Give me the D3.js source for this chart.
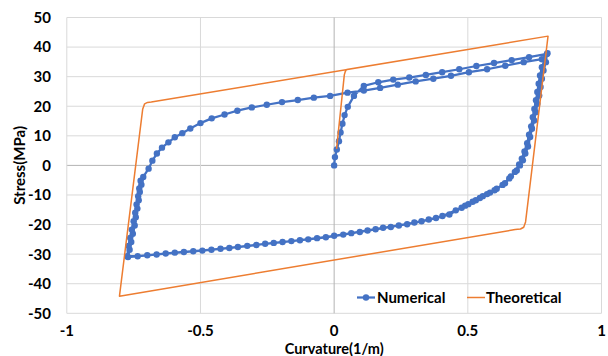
<!DOCTYPE html>
<html>
<head>
<meta charset="utf-8">
<script src="https://cdn.jsdelivr.net/npm/d3@7/dist/d3.min.js"></script>
<style>
  html, body { margin: 0; padding: 0; background: #ffffff; }
  svg { display: block; }
  text { font-family: Lato, "Open Sans", sans-serif; font-weight: bold; fill: #000; }
</style>
</head>
<body>
<svg id="chart" width="608" height="356"></svg>
<script>
// Axis ticks
const xTicks = [-1, -0.5, 0, 0.5, 1];
const yTicks = [50, 40, 30, 20, 10, 0, -10, -20, -30, -40, -50];

// Numerical hysteresis, [curvature (1/m), stress (MPa)]
const initialLoading = [
  [0, 0], [0.003, 2.8], [0.010, 5.4], [0.018, 8.2], [0.024, 11.1], [0.031, 14.1],
  [0.039, 17.0], [0.051, 19.8], [0.074, 23.5], [0.111, 26.9], [0.165, 28.1],
  [0.221, 29.0], [0.281, 29.7], [0.343, 30.6], [0.404, 31.5], [0.468, 32.5],
  [0.532, 33.6], [0.598, 34.6], [0.664, 35.6], [0.729, 36.6], [0.796, 37.7]
];
const unloadingFirst = [
  [0.792, 34.9], [0.783, 32.1], [0.777, 29.3], [0.772, 26.5], [0.767, 23.6],
  [0.760, 20.8], [0.754, 18.0], [0.748, 15.2], [0.740, 12.4], [0.733, 9.6],
  [0.725, 6.4], [0.715, 4.0], [0.706, 1.7], [0.695, 0.0], [0.683, -1.7],
  [0.661, -3.7], [0.639, -6.0], [0.608, -7.9], [0.583, -9.2], [0.556, -10.4],
  [0.530, -11.8], [0.502, -13.1], [0.477, -14.3], [0.431, -16.6], [0.381, -17.8],
  [0.327, -18.9], [0.273, -19.9], [0.212, -20.8], [0.155, -21.6], [0.096, -22.5],
  [0.034, -23.4], [-0.031, -24.3], [-0.097, -25.0], [-0.160, -25.6], [-0.226, -26.2],
  [-0.291, -26.9], [-0.360, -27.6], [-0.425, -28.2], [-0.493, -28.8], [-0.562, -29.3],
  [-0.630, -29.8], [-0.699, -30.4], [-0.771, -31.0]
];
const reloading = [
  [-0.765, -28.5], [-0.759, -25.9], [-0.753, -23.1], [-0.746, -20.3], [-0.742, -17.5],
  [-0.736, -14.6], [-0.731, -11.8], [-0.727, -9.0], [-0.721, -6.5], [-0.714, -3.9],
  [-0.694, -1.1], [-0.680, 1.6], [-0.663, 4.0], [-0.644, 6.0], [-0.620, 7.8],
  [-0.596, 9.5], [-0.568, 10.9], [-0.538, 12.5], [-0.500, 14.3], [-0.458, 15.9],
  [-0.410, 17.2], [-0.362, 18.5], [-0.308, 19.6], [-0.252, 20.5], [-0.195, 21.4],
  [-0.136, 22.1], [-0.076, 22.9], [-0.015, 23.5], [0.050, 24.6], [0.111, 25.3],
  [0.172, 26.2], [0.238, 27.3], [0.305, 28.4], [0.371, 29.3], [0.437, 30.3],
  [0.504, 31.5], [0.572, 32.5], [0.640, 33.7], [0.709, 34.9], [0.777, 35.9],
  [0.798, 37.9]
];
const unloadingSecond = [
  [0.777, 33.2], [0.770, 30.4], [0.765, 27.6], [0.760, 24.8], [0.755, 22.0],
  [0.749, 19.1], [0.743, 16.3], [0.737, 13.2], [0.729, 10.4], [0.722, 7.5],
  [0.712, 4.7], [0.702, 2.3], [0.692, 0.3], [0.676, -2.2], [0.655, -4.4],
  [0.630, -6.6], [0.600, -8.4], [0.572, -9.7], [0.545, -11.0], [0.518, -12.3],
  [0.490, -13.6], [0.455, -15.2], [0.405, -17.1], [0.354, -18.3], [0.300, -19.3],
  [0.242, -20.3], [0.183, -21.1], [0.125, -22.0], [0.064, -22.9], [0.000, -23.8],
  [-0.064, -24.6], [-0.128, -25.3], [-0.193, -25.9], [-0.258, -26.5], [-0.325, -27.2],
  [-0.392, -27.9], [-0.459, -28.5], [-0.527, -29.0], [-0.596, -29.5], [-0.664, -30.1],
  [-0.735, -30.7], [-0.774, -30.7], [-0.769, -27.2], [-0.763, -24.5], [-0.757, -21.7],
  [-0.750, -18.9], [-0.744, -16.0], [-0.739, -13.2], [-0.733, -10.4], [-0.729, -7.8],
  [-0.724, -5.2]
];

// Theoretical bilinear loop, [curvature (1/m), stress (MPa)]
const theoretical = [
  [0.009, 5.6], [0.035, 28.0], [0.038, 30.6], [0.042, 31.8], [0.047, 32.4],
  [0.800, 43.7], [0.716, -19.1], [0.709, -20.9], [0.697, -21.5], [0.677, -21.7],
  [-0.803, -44.2], [-0.716, 19.1], [-0.709, 20.8], [-0.698, 21.3], [-0.684, 21.4],
  [0.800, 43.7]
];

const numerical = initialLoading.concat(unloadingFirst, reloading, unloadingSecond);

const svg = d3.select("#chart");
const x = d3.scaleLinear().domain([-1, 1]).range([66.8, 601.5]);
const y = d3.scaleLinear().domain([-50, 50]).range([313.3, 17.5]);
const fs = "15px";

// Grid
const grid = svg.append("g");
grid.selectAll("line.h").data(yTicks).join("line")
  .attr("x1", x(-1)).attr("x2", x(1))
  .attr("y1", d => y(d)).attr("y2", d => y(d))
  .attr("stroke", d => d === 0 ? "#b3b3b3" : "#d9d9d9").attr("stroke-width", 1);
grid.selectAll("line.v").data(xTicks).join("line")
  .attr("y1", y(50)).attr("y2", y(-50))
  .attr("x1", d => x(d)).attr("x2", d => x(d))
  .attr("stroke", d => d === 0 ? "#b3b3b3" : "#d9d9d9").attr("stroke-width", 1);

// Tick labels
svg.append("g").selectAll("text").data(yTicks).join("text")
  .attr("x", 51).attr("y", d => y(d)).attr("dy", "0.36em")
  .attr("text-anchor", "end").style("font-size", fs)
  .text(d => d);
svg.append("g").selectAll("text").data(xTicks).join("text")
  .attr("x", d => x(d)).attr("y", 330.5).attr("dy", "0.36em")
  .attr("text-anchor", "middle").style("font-size", fs)
  .text(d => d);

// Axis titles
svg.append("text").attr("x", x(0)).attr("y", 353.5)
  .attr("text-anchor", "middle").style("font-size", "14.5px")
  .text("Curvature(1/m)");
svg.append("text").attr("transform", "translate(25," + y(0) + ") rotate(-90)")
  .attr("text-anchor", "middle").style("font-size", fs)
  .text("Stress(MPa)");

const line = d3.line().x(d => x(d[0])).y(d => y(d[1]));

// Numerical series
svg.append("path").datum(numerical)
  .attr("d", line).attr("fill", "none")
  .attr("stroke", "#4472C4").attr("stroke-width", 2.25).attr("stroke-linejoin", "round");
svg.append("g").selectAll("circle").data(numerical).join("circle")
  .attr("cx", d => x(d[0])).attr("cy", d => y(d[1])).attr("r", 3.2)
  .attr("fill", "#4472C4");

// Theoretical series
svg.append("path").datum(theoretical)
  .attr("d", line).attr("fill", "none")
  .attr("stroke", "#ED7D31").attr("stroke-width", 1.5).attr("stroke-linejoin", "round");

// Legend
const legend = svg.append("g");
const ly = 297.5;
legend.append("line").attr("x1", 357).attr("x2", 375).attr("y1", ly).attr("y2", ly)
  .attr("stroke", "#4472C4").attr("stroke-width", 2.25);
legend.append("circle").attr("cx", 366).attr("cy", ly).attr("r", 3.2).attr("fill", "#4472C4");
legend.append("text").attr("x", 377).attr("y", ly).attr("dy", "0.36em")
  .style("font-size", fs).text("Numerical");
legend.append("line").attr("x1", 467).attr("x2", 485).attr("y1", ly).attr("y2", ly)
  .attr("stroke", "#ED7D31").attr("stroke-width", 1.5);
legend.append("text").attr("x", 486).attr("y", ly).attr("dy", "0.36em")
  .style("font-size", fs).text("Theoretical");
</script>
</body>
</html>
